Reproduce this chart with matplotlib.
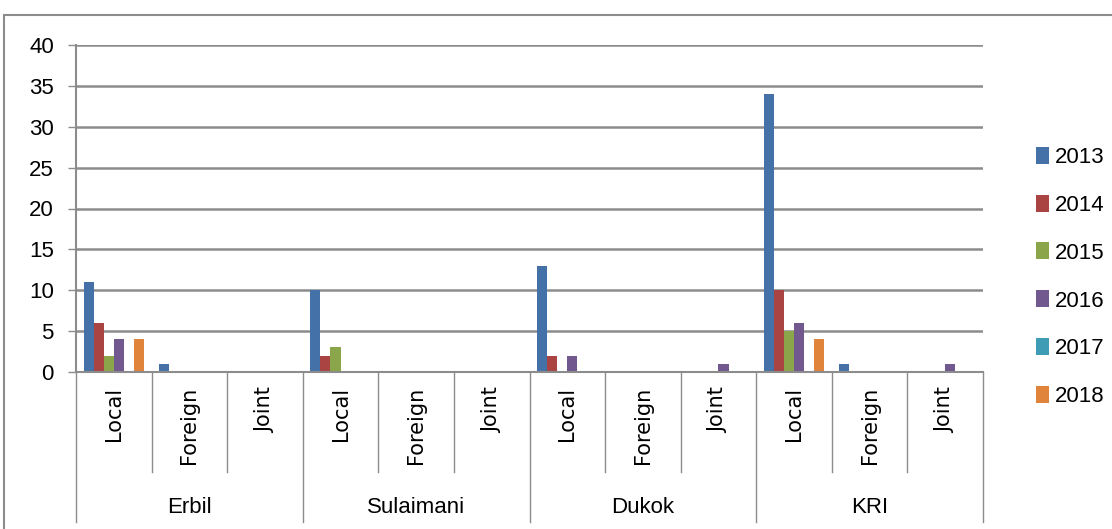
import matplotlib.pyplot as plt
from matplotlib.patches import Rectangle
import numpy as np

plt.rcParams['font.family'] = ['Liberation Sans', 'DejaVu Sans']

regions = ['Erbil', 'Sulaimani', 'Dukok', 'KRI']
types = ['Local', 'Foreign', 'Joint']
years = ['2013', '2014', '2015', '2016', '2017', '2018']
colores = ['#4472A8', '#A94442', '#8AA54A', '#71588F', '#3E9DB5', '#E0843C']

# valores por anio, orden: Erbil L/F/J, Sulaimani L/F/J, Dukok L/F/J, KRI L/F/J
v2013 = [11, 1, 0, 10, 0, 0, 13, 0, 0, 34, 1, 0]
v2014 = [6, 0, 0, 2, 0, 0, 2, 0, 0, 10, 0, 0]
v2015 = [2, 0, 0, 3, 0, 0, 0, 0, 0, 5, 0, 0]
v2016 = [4, 0, 0, 0, 0, 0, 2, 0, 1, 6, 0, 1]
v2017 = [0, 0, 0, 0, 0, 0, 0, 0, 0, 0, 0, 0]
v2018 = [4, 0, 0, 0, 0, 0, 0, 0, 0, 4, 0, 0]
series = [v2013, v2014, v2015, v2016, v2017, v2018]

W, H = 1112, 529
fig = plt.figure(figsize=(W / 100, H / 100), dpi=100)
ax = fig.add_axes([76 / W, 1 - 372 / H, (983 - 76) / W, (372 - 45) / H])

# marco exterior
fig.patches.append(Rectangle((4 / W, -0.1), 1.2, 1 - 15 / H + 0.1, transform=fig.transFigure,
                             fill=False, edgecolor='#8c8c8c', linewidth=1.5))

n = len(regions) * len(types)
x = np.arange(n)
w = 1 / 7.5
for i, vals in enumerate(series):
    ax.bar(x + (i - 2.5) * w, vals, width=w, color=colores[i], label=years[i],
           linewidth=0, zorder=3)

ax.set_xlim(-0.5, n - 0.5)
ax.set_ylim(0, 40)
ax.set_yticks(range(0, 41, 5))
ax.yaxis.grid(True, color='#8c8c8c', linewidth=1.8, zorder=0)
ax.set_xticks([])
ax.tick_params(axis='y', length=6, width=1, color='#8c8c8c', labelsize=16, pad=10)
for s in ['top', 'right']:
    ax.spines[s].set_visible(False)
for s in ['left', 'bottom']:
    ax.spines[s].set_color('#8c8c8c')
    ax.spines[s].set_linewidth(1.5)
ax.spines['bottom'].set_zorder(4)

tr = ax.get_xaxis_transform()
for k in range(n + 1):
    largo = -0.459 if k % 3 == 0 else -0.306
    ax.plot([k - 0.5, k - 0.5], [0, largo], transform=tr, color='#8c8c8c',
            linewidth=1, clip_on=False)
for k in range(n):
    ax.text(k, -0.045, types[k % 3], transform=tr, rotation=90, ha='center', va='top',
            fontsize=15, family=['DejaVu Sans'])
for g, r in enumerate(regions):
    ax.text(3 * g + 1, -0.413, r, transform=tr, ha='center', va='center', fontsize=16)

fig.legend(loc='center left', bbox_to_anchor=(1016 / W, 1 - 277 / H), frameon=False,
           handlelength=0.6, handleheight=0.8, handletextpad=0.25, labelspacing=1.2,
           fontsize=16)

fig.savefig('out.png', dpi=100)
